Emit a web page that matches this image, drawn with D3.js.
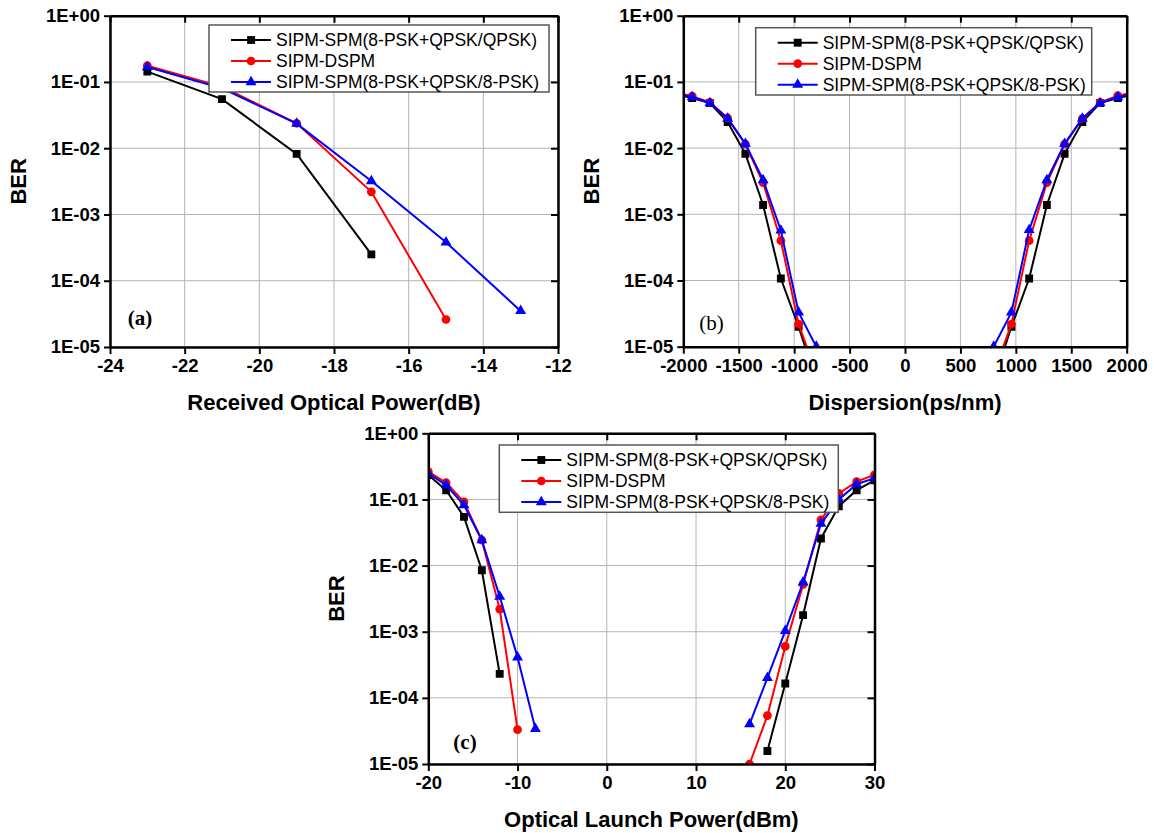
<!DOCTYPE html>
<html>
<head>
<meta charset="utf-8">
<script src="https://cdn.jsdelivr.net/npm/d3@7/dist/d3.min.js"></script>
<style>
  body { margin: 0; background: #fff; }
  svg { display: block; }
</style>
</head>
<body>
<svg id="chart" width="1154" height="833"></svg>
<script>
// legend entries, same order in every panel
const seriesNames = [
  'SIPM-SPM(8-PSK+QPSK/QPSK)',
  'SIPM-DSPM',
  'SIPM-SPM(8-PSK+QPSK/8-PSK)'
];

// (a) BER vs received optical power
const powerA = [-23, -21, -19, -17, -15, -13];
const berA_qpsk = [0.143, 0.055, 0.0082, 2.5e-4, null, null];
const berA_dspm = [0.176, 0.085, 0.0238, 0.0022, 2.6e-5, null];
const berA_8psk = [0.168, 0.08, 0.0235, 0.0032, 3.8e-4, 3.5e-5];

// (b) BER vs dispersion (two branches, the curves drop below 1E-05 in the middle)
const dispLeft = [-2080, -1920, -1760, -1600, -1440, -1280, -1120, -960, -800];
const berB_qpsk_left = [0.066, 0.057, 0.048, 0.0248, 0.0082, 1.38e-3, 1.07e-4, 2.0e-5, 3e-6];
const berB_dspm_left = [0.07, 0.061, 0.049, 0.0285, 0.0115, 3.0e-3, 4.0e-4, 2.2e-5, 4e-6];
const berB_8psk_left = [0.068, 0.059, 0.048, 0.028, 0.0116, 3.3e-3, 5.7e-4, 3.3e-5, 1e-5];
const dispRight = [800, 960, 1120, 1280, 1440, 1600, 1760, 1920, 2080];
const berB_qpsk_right = [3e-6, 2.0e-5, 1.07e-4, 1.38e-3, 8.2e-3, 0.0248, 0.048, 0.057, 0.066];
const berB_dspm_right = [4e-6, 2.2e-5, 4.0e-4, 3.0e-3, 0.0115, 0.028, 0.049, 0.062, 0.07];
const berB_8psk_right = [1e-5, 3.3e-5, 5.8e-4, 3.3e-3, 0.0116, 0.028, 0.048, 0.059, 0.068];

// (c) BER vs optical launch power
const launchLeft = [-20, -18, -16, -14, -12, -10, -8];
const berC_qpsk_left = [0.234, 0.138, 0.0546, 8.5e-3, 2.3e-4, null, null];
const berC_dspm_left = [0.263, 0.179, 0.092, 0.0242, 2.2e-3, 3.3e-5, null];
const berC_8psk_left = [0.248, 0.165, 0.082, 0.0242, 3.4e-3, 4.1e-4, 3.4e-5];
const launchRight = [16, 18, 20, 22, 24, 26, 28, 30];
const berC_qpsk_right = [null, 1.57e-5, 1.65e-4, 1.78e-3, 0.0257, 0.079, 0.138, 0.195];
const berC_dspm_right = [1e-5, 5.4e-5, 6.0e-4, 5.2e-3, 0.049, 0.123, 0.186, 0.236];
const berC_8psk_right = [4e-5, 2.0e-4, 1.03e-3, 5.6e-3, 0.043, 0.1, 0.17, 0.21];

// tick values
const berTicks = [1e-5, 1e-4, 1e-3, 1e-2, 1e-1, 1];
const powerTicksA = [-24, -22, -20, -18, -16, -14, -12];
const dispTicksB = [-2000, -1500, -1000, -500, 0, 500, 1000, 1500, 2000];
const launchTicksC = [-20, -10, 0, 10, 20, 30];

const seriesColors = ['#000000', '#ff0000', '#0000ff'];
const seriesSymbols = [d3.symbolSquare, d3.symbolCircle, d3.symbolTriangle];
const symbolSizes = [62, 60, 52];

const sansFont = "'Liberation Sans', Arial, sans-serif";
const serifFont = "'Liberation Serif', 'Times New Roman', serif";

function zip(xs, ys) {
  return xs.map((x, i) => ({ x, y: ys[i] })).filter(d => d.y != null);
}

const panels = [
  {
    id: 'a',
    left: 110, top: 15.7, width: 448, height: 331.3,
    xDomain: [-24, -12], xTicks: powerTicksA,
    xTitle: 'Received Optical Power(dB)',
    tag: '(a)', tagBold: true, tagX: 140, tagY: 318,
    legend: { x: 209, y: 25, width: 340, height: 67 },
    series: [
      [zip(powerA, berA_qpsk)],
      [zip(powerA, berA_dspm)],
      [zip(powerA, berA_8psk)]
    ]
  },
  {
    id: 'b',
    left: 683.3, top: 15.7, width: 443.4, height: 331,
    xDomain: [-2000, 2000], xTicks: dispTicksB,
    xTitle: 'Dispersion(ps/nm)',
    tag: '(b)', tagBold: false, tagX: 711.5, tagY: 323,
    legend: { x: 755.7, y: 27.7, width: 336, height: 67.3 },
    series: [
      [zip(dispLeft, berB_qpsk_left), zip(dispRight, berB_qpsk_right)],
      [zip(dispLeft, berB_dspm_left), zip(dispRight, berB_dspm_right)],
      [zip(dispLeft, berB_8psk_left), zip(dispRight, berB_8psk_right)]
    ]
  },
  {
    id: 'c',
    left: 428.3, top: 433.3, width: 446.2, height: 330.7,
    xDomain: [-20, 30], xTicks: launchTicksC,
    xTitle: 'Optical Launch Power(dBm)',
    tag: '(c)', tagBold: true, tagX: 465, tagY: 741.7,
    legend: { x: 499.3, y: 445, width: 339, height: 67.3 },
    series: [
      [zip(launchLeft, berC_qpsk_left), zip(launchRight, berC_qpsk_right)],
      [zip(launchLeft, berC_dspm_left), zip(launchRight, berC_dspm_right)],
      [zip(launchLeft, berC_8psk_left), zip(launchRight, berC_8psk_right)]
    ]
  }
];

function formatBer(v) {
  const e = Math.round(Math.log10(v));
  return '1E' + (e >= 0 ? '+' : '-') + String(Math.abs(e)).padStart(2, '0');
}

// plain hyphen minus, no thousands separator
function formatX(v) {
  return v < 0 ? '-' + Math.abs(v) : String(v);
}

function setScalesToConfig(config) {
  config.x = d3.scaleLinear()
    .domain(config.xDomain)
    .range([config.left, config.left + config.width]);
  config.y = d3.scaleLog()
    .domain([1e-5, 1])
    .range([config.top + config.height, config.top]);
}

function drawGrid(svg, config) {
  const grid = svg.append('g').attr('class', 'grid');
  grid.selectAll('.vgrid')
    .data(config.xTicks)
    .enter()
    .append('line')
    .attr('x1', d => config.x(d))
    .attr('x2', d => config.x(d))
    .attr('y1', config.top)
    .attr('y2', config.top + config.height)
    .style('stroke', '#b4b4b4')
    .style('stroke-width', 1);
  grid.selectAll('.hgrid')
    .data(berTicks)
    .enter()
    .append('line')
    .attr('x1', config.left)
    .attr('x2', config.left + config.width)
    .attr('y1', d => config.y(d))
    .attr('y2', d => config.y(d))
    .style('stroke', '#b4b4b4')
    .style('stroke-width', 1);
}

function drawSeries(svg, config) {
  const clipId = `clip-${config.id}`;
  svg.append('clipPath')
    .attr('id', clipId)
    .append('rect')
    .attr('x', config.left)
    .attr('y', config.top)
    .attr('width', config.width)
    .attr('height', config.height);

  const group = svg.append('g').attr('clip-path', `url(#${clipId})`);
  const line = d3.line()
    .x(d => config.x(d.x))
    .y(d => config.y(d.y));

  config.series.forEach((segments, index) => {
    segments.forEach(points => {
      group.append('path')
        .attr('d', line(points))
        .style('fill', 'none')
        .style('stroke', seriesColors[index])
        .style('stroke-width', 2);
      group.selectAll(null)
        .data(points)
        .enter()
        .append('path')
        .attr('d', d3.symbol(seriesSymbols[index], symbolSizes[index]))
        .attr('transform', d => `translate(${config.x(d.x)},${config.y(d.y)})`)
        .style('fill', seriesColors[index]);
    });
  });
}

function styleAxis(g, showText) {
  g.select('.domain').style('stroke', '#000').style('stroke-width', 2.5);
  g.selectAll('.tick line').style('stroke', '#000').style('stroke-width', 2);
  if (showText) {
    g.selectAll('.tick text')
      .style('font-family', sansFont)
      .style('font-weight', 'bold')
      .style('font-size', '18.5px')
      .style('fill', '#000');
  }
}

function drawAxes(svg, config) {
  const bottom = config.top + config.height;
  const right = config.left + config.width;

  svg.append('g')
    .attr('transform', `translate(0,${config.top})`)
    .call(d3.axisTop(config.x).tickValues(config.xTicks).tickSize(-7).tickSizeOuter(0).tickFormat(''))
    .call(g => styleAxis(g, false));
  svg.append('g')
    .attr('transform', `translate(${right},0)`)
    .call(d3.axisRight(config.y).tickValues(berTicks).tickSize(-7).tickSizeOuter(0).tickFormat(''))
    .call(g => styleAxis(g, false));
  svg.append('g')
    .attr('transform', `translate(0,${bottom})`)
    .call(d3.axisBottom(config.x).tickValues(config.xTicks).tickFormat(formatX).tickSize(7).tickPadding(5).tickSizeOuter(0))
    .call(g => styleAxis(g, true));
  svg.append('g')
    .attr('transform', `translate(${config.left},0)`)
    .call(d3.axisLeft(config.y).tickValues(berTicks).tickFormat(formatBer).tickSize(6).tickPadding(4).tickSizeOuter(0))
    .call(g => styleAxis(g, true));
}

function drawTitles(svg, config) {
  svg.append('text')
    .attr('x', config.left + config.width / 2)
    .attr('y', config.top + config.height + 63)
    .attr('text-anchor', 'middle')
    .style('font-family', sansFont)
    .style('font-weight', 'bold')
    .style('font-size', '22px')
    .text(config.xTitle);

  svg.append('text')
    .attr('transform', `translate(${config.left - 84},${config.top + config.height / 2}) rotate(-90)`)
    .attr('text-anchor', 'middle')
    .style('font-family', sansFont)
    .style('font-weight', 'bold')
    .style('font-size', '22px')
    .text('BER');

  svg.append('text')
    .attr('x', config.tagX)
    .attr('y', config.tagY)
    .attr('text-anchor', 'middle')
    .attr('dy', '0.35em')
    .style('font-family', serifFont)
    .style('font-weight', config.tagBold ? 'bold' : 'normal')
    .style('font-size', '21px')
    .text(config.tag);
}

function drawLegend(svg, config) {
  const box = config.legend;
  const legend = svg.append('g')
    .attr('transform', `translate(${box.x},${box.y})`);

  legend.append('rect')
    .attr('width', box.width)
    .attr('height', box.height)
    .style('fill', '#fff')
    .style('stroke', '#555')
    .style('stroke-width', 1.5);

  const rows = legend.selectAll('.row')
    .data(seriesNames)
    .enter()
    .append('g')
    .attr('transform', (d, i) => `translate(0,${15 + i * 21})`);

  rows.append('line')
    .attr('x1', 22)
    .attr('x2', 62)
    .style('stroke', (d, i) => seriesColors[i])
    .style('stroke-width', 2);

  rows.append('path')
    .attr('d', (d, i) => d3.symbol(seriesSymbols[i], symbolSizes[i])())
    .attr('transform', 'translate(42,0)')
    .style('fill', (d, i) => seriesColors[i]);

  rows.append('text')
    .attr('x', 67)
    .attr('dy', '0.36em')
    .style('font-family', sansFont)
    .style('font-size', '17.5px')
    .text(d => d);
}

const svg = d3.select('#chart');
svg.append('rect').attr('width', 1154).attr('height', 833).style('fill', '#fff');

panels.forEach(config => {
  setScalesToConfig(config);
  drawGrid(svg, config);
  drawSeries(svg, config);
  drawAxes(svg, config);
  drawTitles(svg, config);
  drawLegend(svg, config);
});
</script>
</body>
</html>
